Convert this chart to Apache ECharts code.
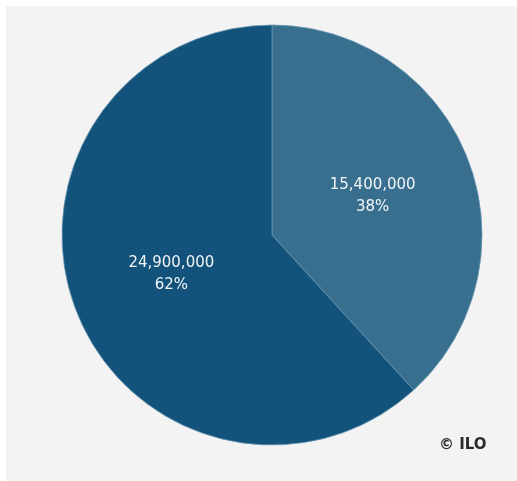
<!DOCTYPE html>
<html>
<head>
<meta charset="utf-8">
<script src="https://cdn.jsdelivr.net/npm/echarts@6/dist/echarts.min.js"></script>
<style>
  html, body { margin: 0; padding: 0; background: #ffffff; }
  #main { width: 517px; height: 481px; }
</style>
</head>
<body>
<div id="main"></div>
<script>
// slices, clockwise from 12 o'clock
var categories = ['Group A', 'Group B'];
var values = [15400000, 24900000];
var percents = ['38%', '62%'];
var colors = ['#386f8f', '#13527a'];

var chart = echarts.init(document.getElementById('main'));
var option = {
    backgroundColor: '#ffffff',
    graphic: [
        {
            type: 'rect',
            z: -10,
            shape: { x: 6, y: 6, width: 511, height: 475 },
            style: { fill: '#f3f3f3' }
        },
        {
            type: 'text',
            left: 439,
            top: 438,
            style: {
                text: '© ILO',
                fill: '#2b2b2b',
                font: 'bold 15px "DejaVu Sans"'
            }
        }
    ],
    series: [
        {
            type: 'pie',
            center: [272, 235],
            radius: 210,
            startAngle: 90,
            clockwise: true,
            silent: true,
            itemStyle: {
                borderColor: '#6a97b3',
                borderWidth: 0.8
            },
            label: {
                position: 'inside',
                color: '#f2f5f8',
                fontFamily: 'DejaVu Sans',
                fontSize: 15,
                lineHeight: 22,
                formatter: function (p) {
                    return p.value.toLocaleString('en-US') + '\n' + percents[p.dataIndex];
                }
            },
            labelLine: { show: false },
            data: categories.map(function (c, i) {
                return { name: c, value: values[i], itemStyle: { color: colors[i] } };
            })
        }
    ]
};
chart.setOption(option);
window.addEventListener('resize', function () {
    chart.resize();
});
</script>
</body>
</html>
